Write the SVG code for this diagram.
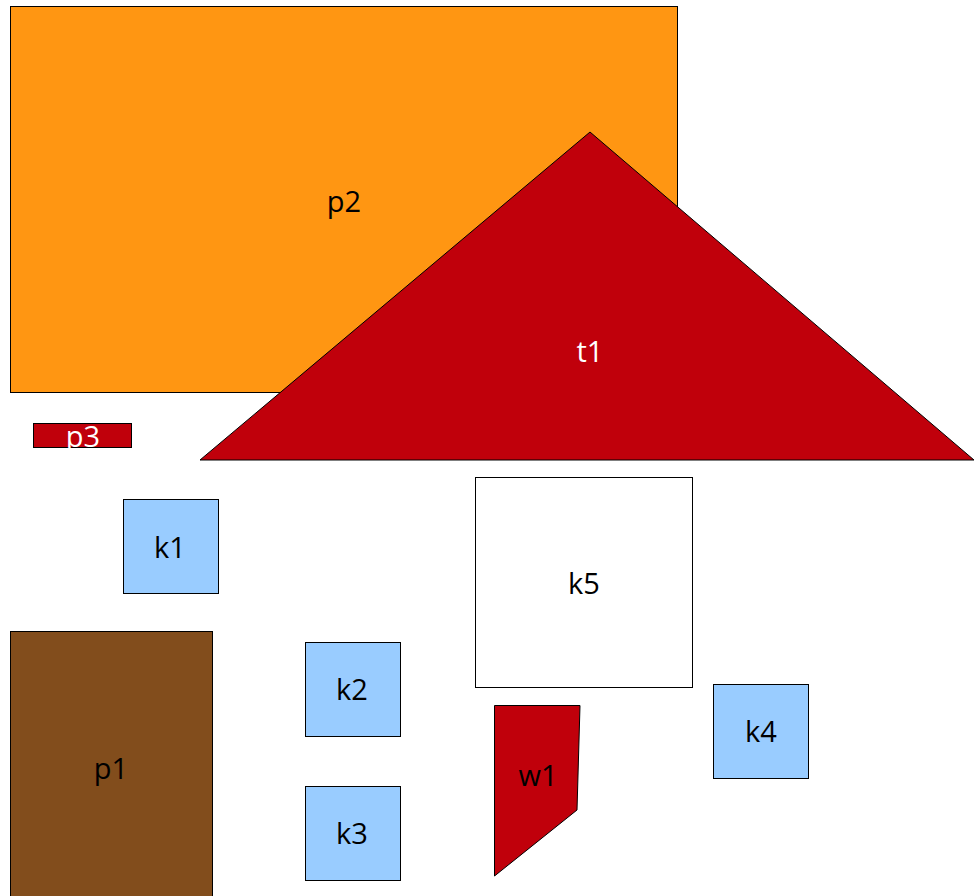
<svg xmlns="http://www.w3.org/2000/svg" width="974" height="896" viewBox="0 0 974 896">
<style>
.s{stroke:#000;stroke-width:1}
.lb{font-family:"Open Sans","Liberation Sans",sans-serif;font-size:29px;text-anchor:middle;dominant-baseline:central}
.k{fill:#99ccff}
.w{fill:#fff}
.d{fill:#000}
</style>
<rect width="974" height="896" fill="#fff"/>
<g id="p2"><rect class="s" x="10.5" y="6.5" width="667" height="386" fill="#ff9612"/><text class="lb d" x="344" y="200">p2</text></g>
<g id="t1"><polygon class="s" points="590,132 200,460 974,460" fill="#c0000b"/><text class="lb w" x="590" y="350">t1</text></g>
<g id="p3"><rect class="s" x="33.5" y="423.5" width="98" height="24" fill="#c0000b"/><text class="lb w" x="83" y="435">p3</text></g>
<g id="k1"><rect class="s k" x="123.5" y="499.5" width="95" height="94"/><text class="lb d" x="170" y="546">k1</text></g>
<g id="p1"><rect class="s" x="10.5" y="631.5" width="202" height="266" fill="#824d1c"/><text class="lb d" x="111" y="767">p1</text></g>
<g id="k2"><rect class="s k" x="305.5" y="642.5" width="95" height="94"/><text class="lb d" x="352" y="688">k2</text></g>
<g id="k3"><rect class="s k" x="305.5" y="786.5" width="95" height="94"/><text class="lb d" x="352" y="832">k3</text></g>
<g id="k5"><rect class="s" x="475.5" y="477.5" width="217" height="210" fill="#fff"/><text class="lb d" x="584" y="582">k5</text></g>
<g id="k4"><rect class="s k" x="713.5" y="684.5" width="95" height="94"/><text class="lb d" x="761" y="730">k4</text></g>
<g id="w1"><polygon class="s" points="494.5,705.5 580,705.5 577,810 494.5,876" fill="#c0000b"/><text class="lb d" x="538" y="774">w1</text></g>
</svg>
